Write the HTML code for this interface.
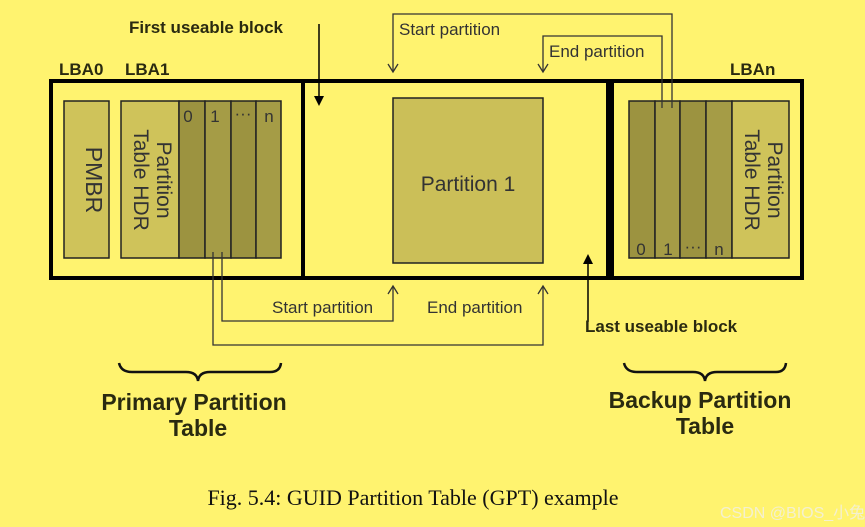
<!DOCTYPE html>
<html><head><meta charset="utf-8"><style>
html,body{margin:0;padding:0;background:#fff36f;}
svg{display:block}
text{font-family:"Liberation Sans",sans-serif;fill:#2a2a10}
</style></head><body>
<svg width="865" height="527" viewBox="0 0 865 527" xmlns="http://www.w3.org/2000/svg">
<rect width="865" height="527" fill="#fff36f"/>
<g fill="none" stroke="#000" stroke-width="4">
<rect x="51" y="81" width="557" height="197"/>
<line x1="303" y1="81" x2="303" y2="278"/>
<line x1="612" y1="81" x2="612" y2="278"/>
<rect x="612" y="81" width="190" height="197"/>
</g>
<g stroke="#222" stroke-width="1.5">
<rect x="64" y="101" width="45" height="157" fill="#cfc35a"/>
<rect x="121" y="101" width="58" height="157" fill="#cfc35a"/>
<rect x="179" y="101" width="26" height="157" fill="#9c9340"/>
<rect x="205" y="101" width="26" height="157" fill="#a59c46"/>
<rect x="231" y="101" width="25" height="157" fill="#9c9340"/>
<rect x="256" y="101" width="25" height="157" fill="#a59c46"/>
<rect x="629" y="101" width="26" height="157" fill="#9c9340"/>
<rect x="655" y="101" width="25" height="157" fill="#a59c46"/>
<rect x="680" y="101" width="26" height="157" fill="#9c9340"/>
<rect x="706" y="101" width="26" height="157" fill="#a59c46"/>
<rect x="732" y="101" width="57" height="157" fill="#cfc35a"/>
<rect x="393" y="98" width="150" height="165" fill="#cbbf58"/>
</g>
<g font-size="17">
<text x="188" y="122" text-anchor="middle" style="fill:#333">0</text>
<text x="215" y="122" text-anchor="middle" style="fill:#333">1</text>
<text x="243" y="119" text-anchor="middle" style="fill:#333">···</text>
<text x="269" y="122" text-anchor="middle" style="fill:#333">n</text>
<text x="641" y="255" text-anchor="middle" style="fill:#333">0</text>
<text x="668" y="255" text-anchor="middle" style="fill:#333">1</text>
<text x="693" y="252" text-anchor="middle" style="fill:#333">···</text>
<text x="719" y="255" text-anchor="middle" style="fill:#333">n</text>
</g>
<text font-size="23" text-anchor="middle" transform="translate(86,180) rotate(90)" style="fill:#333">PMBR</text>
<text font-size="21" text-anchor="middle" transform="translate(150,180) rotate(90)" style="fill:#333"><tspan x="0" y="-7">Partition</tspan><tspan x="0" y="16">Table HDR</tspan></text>
<text font-size="21" text-anchor="middle" transform="translate(761,180) rotate(90)" style="fill:#333"><tspan x="0" y="-7">Partition</tspan><tspan x="0" y="16">Table HDR</tspan></text>
<text x="468" y="191" font-size="21" text-anchor="middle" style="fill:#333">Partition 1</text>
<g fill="none" stroke="#333" stroke-width="1.3">
<polyline points="222,252 222,321 393,321 393,286"/>
<polyline points="213,252 213,345 543,345 543,286"/>
<polyline points="388,294 393,286 398,294"/>
<polyline points="538,294 543,286 548,294"/>
<polyline points="672,108 672,14 393,14 393,72"/>
<polyline points="662,108 662,36 543,36 543,72"/>
<polyline points="388,64 393,72 398,64"/>
<polyline points="538,64 543,72 548,64"/>
</g>
<g stroke="#000" stroke-width="1.5">
<line x1="319" y1="24" x2="319" y2="98"/>
<line x1="588" y1="322" x2="588" y2="262"/>
</g>
<polygon points="314,96 324,96 319,106" fill="#000"/>
<polygon points="583,264 593,264 588,254" fill="#000"/>
<g font-size="17">
<text x="399" y="35" style="fill:#333">Start partition</text>
<text x="549" y="57" style="fill:#333">End partition</text>
<text x="272" y="313" style="fill:#333">Start partition</text>
<text x="427" y="313" style="fill:#333">End partition</text>
</g>
<g font-size="17" font-weight="bold">
<text x="129" y="33">First useable block</text>
<text x="585" y="332">Last useable block</text>
<text x="59" y="75">LBA0</text>
<text x="125" y="75">LBA1</text>
<text x="730" y="75">LBAn</text>
</g>
<g fill="none" stroke="#111" stroke-width="2.5">
<path d="M119,363 Q121,372 132,372 L186,372 Q197,372 198,381 Q199,372 210,372 L270,372 Q280,372 281,363"/>
<path d="M624,363 Q626,372 637,372 L693,372 Q704,372 705,381 Q706,372 717,372 L776,372 Q785,372 786,363"/>
</g>
<g font-size="23" font-weight="bold" text-anchor="middle">
<text x="194" y="410">Primary Partition</text>
<text x="198" y="436">Table</text>
<text x="700" y="408">Backup Partition</text>
<text x="705" y="434">Table</text>
</g>
<text x="413" y="505" font-size="22" text-anchor="middle" style="font-family:'Liberation Serif',serif;fill:#111">Fig. 5.4: GUID Partition Table (GPT) example</text>
<text x="720" y="518" font-size="16" style="font-family:'Liberation Sans','Noto Sans CJK SC',sans-serif;fill:#f4f0d0">CSDN @BIOS_小兔</text>
</svg>
</body></html>
